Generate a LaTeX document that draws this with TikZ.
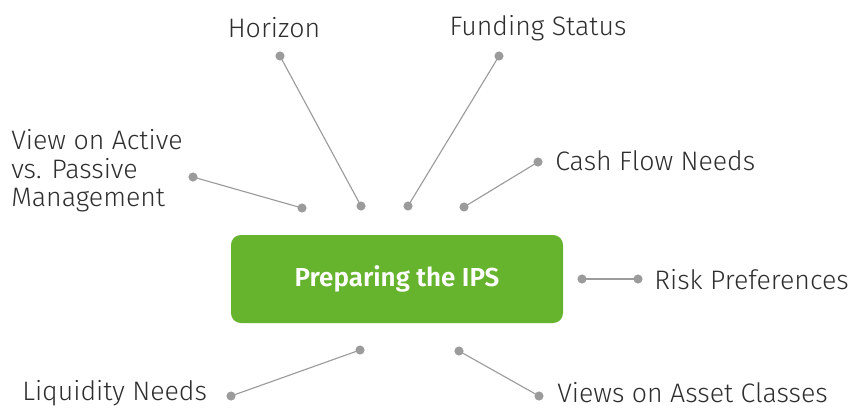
\documentclass[tikz,border=0pt]{standalone}
\usepackage{fontspec}
\setmainfont{Fira Sans}[UprightFont=* Light, BoldFont=* SemiBold]
\usepackage{tikz}
\usetikzlibrary{positioning}
\usetikzlibrary{calc}
\definecolor{ipsGreen}{HTML}{66B32E}
\definecolor{linkGray}{HTML}{9B9B9B}
\definecolor{labelGray}{HTML}{2E2E2E}
\tikzset{
    dot/.style={circle,fill=linkGray,inner sep=0pt,minimum size=6.5pt},
    lbl/.style={text=labelGray,font=\fontsize{19}{20.3}\selectfont,inner sep=0pt},
    link/.style={draw=linkGray,line width=0.8pt},
  }
\begin{document}
\begin{tikzpicture}[x=0.025cm,y=-0.025cm]
  \useasboundingbox (0,0) rectangle (852,410);
  % centre box
  \node[fill=ipsGreen,rounded corners=7pt,minimum width=332*0.025cm,minimum height=88*0.025cm,
        text=white,font=\bfseries\fontsize{18.5}{21}\selectfont] (ips) at (397,279) {Preparing the IPS};

  % labels
  \node[lbl] (hor) at (274,28) {Horizon};
  \node[lbl] (fund) at (538,28) {Funding Status};
  \node[lbl,anchor=west] (cash) at (555,161) {Cash Flow Needs};
  \node[lbl,anchor=west] (risk) at (654,280) {Risk Preferences};
  \node[lbl,anchor=west] (asset) at (557,393) {Views on Asset Classes};
  \node[lbl,anchor=west] (liq) at (22,393) {Liquidity Needs};
  \node[lbl,anchor=west,align=left] (act) at (11,171) {View on Active\\vs. Passive\\Management};

  % dots
  \node[dot] (hor1) at (280,56) {};   \node[dot] (hor2) at (361,206) {};
  \node[dot] (fund1) at (499,56) {};  \node[dot] (fund2) at (408,206) {};
  \node[dot] (cash1) at (538,162) {}; \node[dot] (cash2) at (464,207) {};
  \node[dot] (risk1) at (582,279) {}; \node[dot] (risk2) at (638,279) {};
  \node[dot] (asset1) at (459,351) {};\node[dot] (asset2) at (539,396) {};
  \node[dot] (liq1) at (231,396) {};  \node[dot] (liq2) at (360,350) {};
  \node[dot] (act1) at (193,177) {};  \node[dot] (act2) at (302,208) {};

  % connectors
  \foreach \n in {hor,fund,cash,risk,asset,liq,act}
    \path[link] (\n1.center) -- (\n2.center);
\end{tikzpicture}
\end{document}
